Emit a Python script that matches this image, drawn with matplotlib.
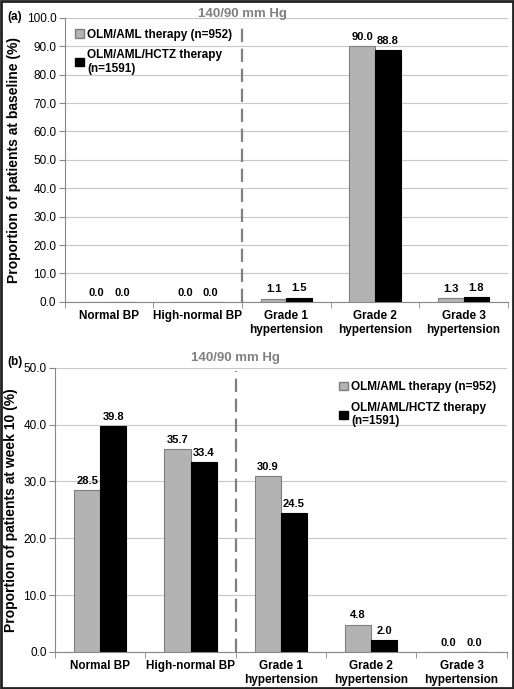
import numpy as np
import matplotlib.pyplot as plt
from matplotlib.patches import Rectangle, Patch

plt.rcParams['font.family'] = ['Liberation Sans', 'DejaVu Sans']

categories = ["Normal BP", "High-normal BP", "Grade 1\nhypertension",
              "Grade 2\nhypertension", "Grade 3\nhypertension"]
labels = ["OLM/AML therapy (n=952)", "OLM/AML/HCTZ therapy\n(n=1591)"]

baseline_olm_aml = [0.0, 0.0, 1.1, 90.0, 1.3]
baseline_hctz = [0.0, 0.0, 1.5, 88.8, 1.8]
week10_olm_aml = [28.5, 35.7, 30.9, 4.8, 0.0]
week10_hctz = [39.8, 33.4, 24.5, 2.0, 0.0]

GRAY = '#b3b3b3'
GRAY_EDGE = '#7f7f7f'
BLACK = '#000000'
W = 0.29


def draw_panel(ax, s1, s2, ymax, ystep, ylabel, legend_loc, legend_anchor, dash_top, title_off):
    x = np.arange(len(categories))
    b1 = ax.bar(x - W / 2, s1, W, color=GRAY, edgecolor=GRAY_EDGE, linewidth=0.8, zorder=3)
    b2 = ax.bar(x + W / 2, s2, W, color=BLACK, edgecolor=BLACK, linewidth=0.8, zorder=3)
    for bars, vals in ((b1, s1), (b2, s2)):
        for r, v in zip(bars, vals):
            ax.annotate(f"{v:.1f}", (r.get_x() + r.get_width() / 2, v),
                        xytext=(0, 3), textcoords='offset points',
                        ha='center', va='bottom', fontsize=8, fontweight='bold')
    ax.set_xlim(-0.5, len(categories) - 0.5)
    ax.set_ylim(0, ymax)
    ticks = np.arange(0, ymax + 0.1, ystep)
    ax.set_yticks(ticks)
    ax.set_yticklabels([f"{t:.1f}" for t in ticks], fontsize=8.5)
    ax.set_xticks(x)
    ax.set_xticklabels(categories, fontsize=8.5, fontweight='bold')
    ax.set_xticks(np.arange(-0.5, len(categories)), minor=True)
    ax.tick_params(axis='x', which='major', length=0, pad=6)
    ax.tick_params(axis='x', which='minor', length=4, color='#888888', direction='out')
    ax.tick_params(axis='y', length=4, color='#888888', direction='out', pad=2)
    ax.grid(axis='y', color='#c8c8c8', linewidth=0.8, zorder=0)
    ax.set_axisbelow(True)
    for s in ('top', 'right'):
        ax.spines[s].set_visible(False)
    for s in ('left', 'bottom'):
        ax.spines[s].set_color('#888888')
        ax.spines[s].set_linewidth(0.8)
    ax.set_ylabel(ylabel, fontsize=10, fontweight='bold', labelpad=4)
    ax.plot([1.5, 1.5], [0, dash_top * ymax], color='#808080', linestyle=(0, (6, 3)),
            linewidth=1.6, zorder=2, clip_on=False)
    ax.annotate("140/90 mm Hg", (1.5, ymax), xytext=(0, title_off), textcoords='offset points',
                ha='center', va='center', fontsize=9.5, fontweight='bold', color='#808080')
    handles = [Patch(facecolor=GRAY, edgecolor=GRAY_EDGE), Patch(facecolor=BLACK, edgecolor=BLACK)]
    ax.legend(handles, labels, loc=legend_loc, bbox_to_anchor=legend_anchor, frameon=False,
              handlelength=0.7, handleheight=0.7, handletextpad=0.3, labelspacing=0.7,
              prop={'size': 8.5, 'weight': 'bold'})


fig = plt.figure(figsize=(5.14, 6.89), dpi=100)
ax1 = fig.add_axes([0.126, 0.562, 0.862, 0.412])
ax2 = fig.add_axes([0.107, 0.054, 0.879, 0.412])

draw_panel(ax1, baseline_olm_aml, baseline_hctz, 100, 10,
           "Proportion of patients at baseline (%)", 'upper left', (0.0, 1.0), 0.975, 3)
draw_panel(ax2, week10_olm_aml, week10_hctz, 50, 10,
           "Proportion of patients at week 10 (%)", 'upper right', (1.0, 0.99), 0.99, 7)

fig.text(0.015, 0.976, "(a)", fontsize=8.5, fontweight='bold', va='center')
fig.text(0.015, 0.474, "(b)", fontsize=8.5, fontweight='bold', va='center')

fig.patches.append(Rectangle((0.002, 0.002), 0.996, 0.996, transform=fig.transFigure,
                             fill=False, edgecolor='#222222', linewidth=2))

fig.savefig("out.png", dpi=100)
